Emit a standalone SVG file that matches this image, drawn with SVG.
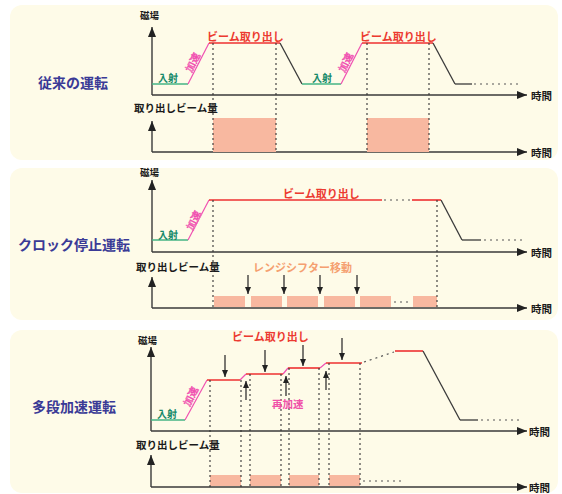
<svg xmlns="http://www.w3.org/2000/svg" width="562" height="494" viewBox="0 0 562 494">
<style>
text{font-family:"Noto Sans CJK JP","Noto Sans",sans-serif;font-weight:bold}
.panel{fill:#fefbe8}
.ax{stroke:#3a3a3a;stroke-width:1.4;fill:none}
.blk{stroke:#3a3a3a;stroke-width:1.3;fill:none}
.grn{stroke:#45b585;stroke-width:1.6;fill:none}
.pnk{stroke:#f050b0;stroke-width:1.2;fill:none}
.red{stroke:#ee3030;stroke-width:1.6;fill:none}
.dot{stroke:#333;stroke-width:1.1;stroke-dasharray:2 3;fill:none}
.gdot{stroke:#555;stroke-width:1.2;stroke-dasharray:2 4;fill:none}
.bar{fill:#f8b8a0}
.arr{stroke:#222;stroke-width:1.2;fill:none}
.lbl{font-size:9.5px;fill:#1a1a1a}
.t{font-size:10.5px;fill:#1a1a1a}
.title{font-size:14px;fill:#3a3a96}
.ext{font-size:11px;fill:#ec3a30}
.inj{font-size:10px;fill:#178a6a}
.acc{font-size:10px;fill:#fefbe8;stroke:#f050b0;stroke-width:0.6;font-weight:normal}
.rs{font-size:11px;fill:#f5a070}
.racc{font-size:10.5px;fill:#f050a8}
</style>
<defs>
<marker id="ah" markerUnits="userSpaceOnUse" markerWidth="10" markerHeight="8" refX="10" refY="4" orient="auto"><path d="M0,0 L10,4 L0,8 z" fill="#222"/></marker>
<marker id="sh" markerUnits="userSpaceOnUse" markerWidth="7" markerHeight="6" refX="7" refY="3" orient="auto"><path d="M0,0 L7,3 L0,6 z" fill="#222"/></marker>
</defs>
<rect width="562" height="494" fill="#ffffff"/>

<g id="panel1">
<rect class="panel" x="10" y="5" width="548" height="155" rx="12"/>
<text class="title" x="38" y="88">従来の運転</text>
<g id="p1-axes">
<line class="ax" x1="152" y1="95" x2="152" y2="27" marker-end="url(#ah)"/>
<line class="ax" x1="152" y1="95" x2="527" y2="95" marker-end="url(#ah)"/>
<line class="ax" x1="152" y1="152" x2="152" y2="121" marker-end="url(#ah)"/>
<line class="ax" x1="152" y1="152" x2="527" y2="152" marker-end="url(#ah)"/>
<text class="lbl" x="140" y="19">磁場</text>
<text class="t" x="531" y="100">時間</text>
<text class="t" x="134" y="112">取り出しビーム量</text>
<text class="t" x="531" y="157">時間</text>
</g>
<g id="p1-bars">
<rect class="bar" x="213" y="118" width="63" height="34"/>
<rect class="bar" x="367" y="118" width="62" height="34"/>
</g>
<g id="p1-curve">
<line class="grn" x1="152" y1="84" x2="188" y2="84"/>
<line class="pnk" x1="188" y1="84" x2="209" y2="43"/>
<line class="red" x1="209" y1="43" x2="280" y2="43"/>
<line class="blk" x1="280" y1="43" x2="302" y2="84"/>
<line class="grn" x1="302" y1="84" x2="341" y2="84"/>
<line class="pnk" x1="341" y1="84" x2="362" y2="43"/>
<line class="red" x1="362" y1="43" x2="433" y2="43"/>
<line class="blk" x1="433" y1="43" x2="455" y2="84"/>
<line class="blk" x1="455" y1="84" x2="472" y2="84"/>
<line class="gdot" x1="474" y1="84" x2="518" y2="84"/>
<line class="dot" x1="213" y1="43" x2="213" y2="152"/>
<line class="dot" x1="276" y1="43" x2="276" y2="152"/>
<line class="dot" x1="367" y1="43" x2="367" y2="152"/>
<line class="dot" x1="429" y1="43" x2="429" y2="152"/>
<text class="ext" x="207" y="41">ビーム取り出し</text>
<text class="ext" x="360" y="41">ビーム取り出し</text>
<text class="inj" x="158" y="82">入射</text>
<text class="inj" x="312" y="82">入射</text>
<text class="acc" transform="translate(192,62) rotate(-63)" text-anchor="middle" dominant-baseline="central">加速</text>
<text class="acc" transform="translate(345,62) rotate(-63)" text-anchor="middle" dominant-baseline="central">加速</text>
</g>
</g>

<g id="panel2">
<rect class="panel" x="10" y="168" width="548" height="152" rx="12"/>
<text class="title" x="18" y="250">クロック停止運転</text>
<g id="p2-axes">
<line class="ax" x1="152" y1="252" x2="152" y2="180" marker-end="url(#ah)"/>
<line class="ax" x1="152" y1="252" x2="527" y2="252" marker-end="url(#ah)"/>
<line class="ax" x1="152" y1="308" x2="152" y2="277" marker-end="url(#ah)"/>
<line class="ax" x1="152" y1="308" x2="527" y2="308" marker-end="url(#ah)"/>
<text class="lbl" x="140" y="176">磁場</text>
<text class="t" x="531" y="257">時間</text>
<text class="t" x="136" y="271">取り出しビーム量</text>
<text class="t" x="531" y="313">時間</text>
</g>
<g id="p2-bars">
<rect class="bar" x="214" y="296" width="31" height="11"/>
<rect class="bar" x="251" y="296" width="31" height="11"/>
<rect class="bar" x="287" y="296" width="31" height="11"/>
<rect class="bar" x="324" y="296" width="31" height="11"/>
<rect class="bar" x="360" y="296" width="31" height="11"/>
<line class="gdot" x1="394" y1="302" x2="411" y2="302"/>
<rect class="bar" x="413" y="296" width="24" height="11"/>
</g>
<g id="p2-curve">
<line class="grn" x1="152" y1="240" x2="188" y2="240"/>
<line class="pnk" x1="188" y1="240" x2="209" y2="200"/>
<line class="red" x1="209" y1="200" x2="382" y2="200"/>
<line class="gdot" x1="384" y1="200" x2="411" y2="200"/>
<line class="red" x1="412" y1="200" x2="441" y2="200"/>
<line class="blk" x1="441" y1="200" x2="462" y2="240"/>
<line class="blk" x1="462" y1="240" x2="481" y2="240"/>
<line class="gdot" x1="484" y1="240" x2="526" y2="240"/>
<line class="dot" x1="213" y1="200" x2="213" y2="308"/>
<line class="dot" x1="437" y1="200" x2="437" y2="308"/>
<text class="ext" x="283" y="198">ビーム取り出し</text>
<text class="inj" x="158" y="239">入射</text>
<text class="acc" transform="translate(193,220) rotate(-63)" text-anchor="middle" dominant-baseline="central">加速</text>
<text class="rs" x="253" y="272">レンジシフター移動</text>
<line class="arr" x1="248" y1="275" x2="248" y2="294" marker-end="url(#sh)"/>
<line class="arr" x1="284" y1="275" x2="284" y2="294" marker-end="url(#sh)"/>
<line class="arr" x1="320" y1="275" x2="320" y2="294" marker-end="url(#sh)"/>
<line class="arr" x1="357" y1="275" x2="357" y2="294" marker-end="url(#sh)"/>
</g>
</g>

<g id="panel3">
<rect class="panel" x="10" y="330" width="548" height="163" rx="12"/>
<text class="title" x="32" y="412">多段加速運転</text>
<g id="p3-axes">
<line class="ax" x1="151" y1="431" x2="151" y2="347" marker-end="url(#ah)"/>
<line class="ax" x1="151" y1="431" x2="527" y2="431" marker-end="url(#ah)"/>
<line class="ax" x1="151" y1="487" x2="151" y2="455" marker-end="url(#ah)"/>
<line class="ax" x1="151" y1="487" x2="527" y2="487" marker-end="url(#ah)"/>
<text class="lbl" x="138" y="344">磁場</text>
<text class="t" x="529" y="436">時間</text>
<text class="t" x="136" y="449">取り出しビーム量</text>
<text class="t" x="529" y="492">時間</text>
</g>
<g id="p3-bars">
<rect class="bar" x="210" y="475" width="31" height="11"/>
<rect class="bar" x="250" y="475" width="31" height="11"/>
<rect class="bar" x="289" y="475" width="30" height="11"/>
<rect class="bar" x="329" y="475" width="31" height="11"/>
<line class="gdot" x1="363" y1="481" x2="403" y2="481"/>
</g>
<g id="p3-curve">
<line class="grn" x1="151" y1="420" x2="185" y2="420"/>
<line class="pnk" x1="185" y1="420" x2="207" y2="380"/>
<line class="red" x1="207" y1="380" x2="240" y2="380"/>
<line class="pnk" x1="240" y1="380" x2="246" y2="374"/>
<line class="red" x1="246" y1="374" x2="283" y2="374"/>
<line class="pnk" x1="283" y1="374" x2="288" y2="368"/>
<line class="red" x1="288" y1="368" x2="320" y2="368"/>
<line class="pnk" x1="320" y1="368" x2="326" y2="363"/>
<line class="red" x1="326" y1="363" x2="362" y2="363"/>
<line class="gdot" x1="364" y1="362" x2="394" y2="352"/>
<line class="red" x1="395" y1="351" x2="423" y2="351"/>
<line class="blk" x1="423" y1="351" x2="460" y2="420"/>
<line class="blk" x1="460" y1="420" x2="478" y2="420"/>
<line class="gdot" x1="481" y1="420" x2="521" y2="420"/>
<line class="dot" x1="210" y1="380" x2="210" y2="487"/>
<line class="dot" x1="241" y1="380" x2="241" y2="487"/>
<line class="dot" x1="250" y1="374" x2="250" y2="487"/>
<line class="dot" x1="281" y1="374" x2="281" y2="487"/>
<line class="dot" x1="289" y1="368" x2="289" y2="487"/>
<line class="dot" x1="319" y1="368" x2="319" y2="487"/>
<line class="dot" x1="329" y1="363" x2="329" y2="487"/>
<line class="dot" x1="360" y1="363" x2="360" y2="487"/>
<text class="ext" x="232" y="341">ビーム取り出し</text>
<text class="inj" x="157" y="418">入射</text>
<text class="acc" transform="translate(190,396) rotate(-63)" text-anchor="middle" dominant-baseline="central">加速</text>
<text class="racc" x="272" y="408">再加速</text>
<line class="arr" x1="225" y1="355" x2="225" y2="377" marker-end="url(#sh)"/>
<line class="arr" x1="265" y1="350" x2="265" y2="372" marker-end="url(#sh)"/>
<line class="arr" x1="303" y1="345" x2="303" y2="366" marker-end="url(#sh)"/>
<line class="arr" x1="342" y1="338" x2="342" y2="360" marker-end="url(#sh)"/>
<line class="arr" x1="246" y1="400" x2="246" y2="381" marker-end="url(#sh)"/>
<line class="arr" x1="286" y1="396" x2="286" y2="376" marker-end="url(#sh)"/>
<line class="arr" x1="326" y1="390" x2="326" y2="371" marker-end="url(#sh)"/>
</g>
</g>
</svg>
